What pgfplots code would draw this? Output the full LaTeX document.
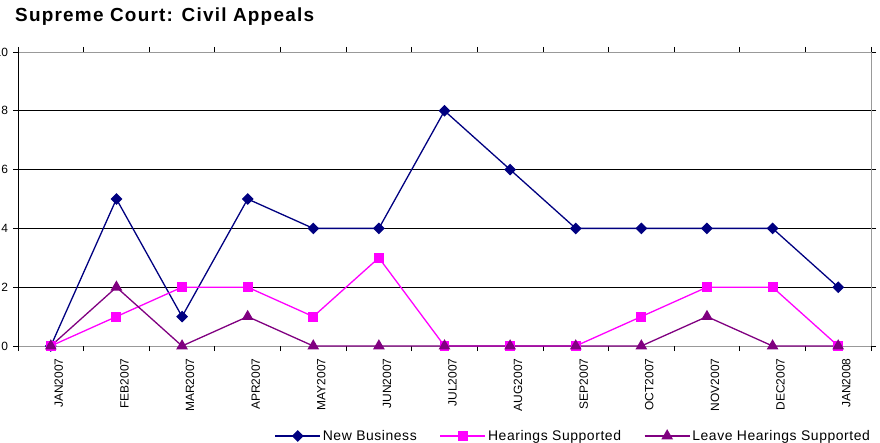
\documentclass[border=0pt]{standalone}
\usepackage{fontspec}
\setmainfont{Liberation Sans}
\usepackage{pgfplots}
\pgfplotsset{compat=1.18}
\definecolor{nb}{HTML}{000080}
\definecolor{hs}{HTML}{FF00FF}
\definecolor{lh}{HTML}{800080}
\begin{document}
\begin{tikzpicture}
\begin{axis}[
  at={(18bp,97bp)}, anchor=south west,
  width=853bp, height=294bp, scale only axis,
  xmin=-0.5, xmax=12.5, ymin=0, ymax=10,
  clip=false,
  ytick={0,2,...,10},
  ymajorgrids, grid style={black, line width=0.8bp},
  axis line style={draw=gray!80, line width=0.8bp},
  tick align=outside, major tick length=5bp,
  tick style={black, line width=0.8bp},
  xtick={0,...,12},
  xticklabels={JAN2007,FEB2007,MAR2007,APR2007,MAY2007,JUN2007,JUL2007,AUG2007,SEP2007,OCT2007,NOV2007,DEC2007,JAN2008},
  xtick style={draw=none},
  extra x ticks={-0.5,0.5,1.5,2.5,3.5,4.5,5.5,6.5,7.5,8.5,9.5,10.5,11.5,12.5},
  extra x tick labels={},
  extra x tick style={xtick style={draw=black}},
  xticklabel shift=4bp,
  xticklabel style={xshift=8bp, rotate=90, anchor=east, font=\fontsize{12}{12}\selectfont},
  yticklabel style={font=\fontsize{12}{12}\selectfont, xshift=-1.5bp},
  /pgf/number format/assume math mode=true,
  title={Supreme Court: Civil Appeals},
  title style={at={(axis description cs:-0.0035,1.085)}, anchor=base west, yshift=0pt,
    font=\bfseries\fontsize{19}{22}\selectfont\addfontfeature{LetterSpace=6.5}, inner sep=0pt},
  legend columns=3,
  legend style={draw=none, fill=none, at={(axis description cs:0.3005,-0.306)}, anchor=west,
    font=\fontsize{14}{16}\selectfont\addfontfeature{LetterSpace=4}, inner sep=0pt,
    /tikz/every even column/.append style={column sep=21bp}},
  legend image code/.code={\draw[mark repeat=2,mark phase=2,#1] plot coordinates {(0bp,0bp) (22.5bp,0bp) (45bp,0bp)};},
]
\draw[black, line width=0.8bp] (rel axis cs:0,0) -- (rel axis cs:0,1);
\addplot[nb, line width=1.3bp, mark=square*, mark size=3.5bp, mark options={rotate=45}]
  coordinates {(0,0) (1,5) (2,1) (3,5) (4,4) (5,4) (6,8) (7,6) (8,4) (9,4) (10,4) (11,4) (12,2)};
\addplot[hs, line width=1.3bp, mark=square*, mark size=4.3bp]
  coordinates {(0,0) (1,1) (2,2) (3,2) (4,1) (5,3) (6,0) (7,0) (8,0) (9,1) (10,2) (11,2) (12,0)};
\addplot[lh, line width=1.3bp, mark=triangle*, mark size=5.5bp]
  coordinates {(0,0) (1,2) (2,0) (3,1) (4,0) (5,0) (6,0) (7,0) (8,0) (9,0) (10,1) (11,0) (12,0)};
\legend{New Business, Hearings Supported, Leave Hearings Supported}
\end{axis}
\pgfresetboundingbox
\useasboundingbox (0,0) rectangle (880bp,443bp);
\end{tikzpicture}
\end{document}
